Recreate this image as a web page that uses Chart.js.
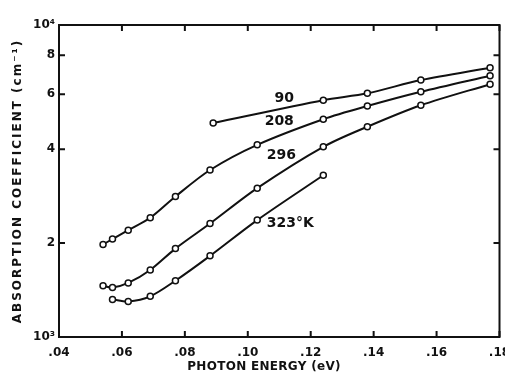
<!DOCTYPE html>
<html>
<head>
<meta charset="utf-8">
<script src="https://cdn.jsdelivr.net/npm/chart.js@4/dist/chart.umd.min.js"></script>
<style>
  body { margin: 0; background: #fff; }
  canvas { display: block; }
</style>
</head>
<body>
<canvas id="absChart" width="505" height="383"></canvas>
<script>
"use strict";

// värden
const energy90 = [0.089, 0.124, 0.138, 0.155, 0.177];
const coef90 = [4850, 5740, 6040, 6660, 7300];

const energy208 = [0.054, 0.057, 0.062, 0.069, 0.077, 0.088, 0.103, 0.124, 0.138, 0.155, 0.177];
const coef208 = [1980, 2060, 2200, 2410, 2820, 3430, 4130, 4990, 5500, 6110, 6880];

const energy296 = [0.054, 0.057, 0.062, 0.069, 0.077, 0.088, 0.103, 0.124, 0.138, 0.155, 0.177];
const coef296 = [1460, 1440, 1490, 1640, 1920, 2310, 3000, 4070, 4720, 5530, 6460];

const energy323 = [0.057, 0.062, 0.069, 0.077, 0.088, 0.103, 0.124];
const coef323 = [1320, 1300, 1350, 1515, 1820, 2370, 3300];

const yTicks = [1000, 2000, 4000, 6000, 8000, 10000];
const xTicks = [0.04, 0.06, 0.08, 0.10, 0.12, 0.14, 0.16, 0.18];

// kurvetiketter
const curveLabels = ["90", "208", "296", "323°K"];
const curveLabelX = [0.1116, 0.110, 0.1107, 0.1135];
const curveLabelY = [5840, 4920, 3830, 2320];

const xTitle = "PHOTON ENERGY (eV)";
const yTitle = "ABSORPTION COEFFICIENT (cm⁻¹)";

const tickFont = { family: "DejaVu Sans", size: 12, weight: "bold" };

function makeSet(xs, ys) {
    return {
        data: xs.map((x, i) => ({ x: x, y: ys[i] })),
        borderColor: "#111",
        borderWidth: 2,
        pointRadius: 3,
        pointBorderWidth: 1.5,
        pointBackgroundColor: "#fff",
        pointBorderColor: "#111",
        tension: 0.3,
        fill: false
    };
}

// ram, inåtriktade streck, axeltitlar och kurvetiketter
const framePlugin = {
    id: "frame",
    afterDraw(chart) {
        const ctx = chart.ctx;
        const a = chart.chartArea;
        const xs = chart.scales.x;
        const ys = chart.scales.y;
        ctx.save();
        ctx.strokeStyle = "#111";
        ctx.lineWidth = 2;
        ctx.strokeRect(a.left, a.top, a.right - a.left, a.bottom - a.top);
        ctx.beginPath();
        xTicks.forEach(v => {
            const px = xs.getPixelForValue(v);
            ctx.moveTo(px, a.bottom);
            ctx.lineTo(px, a.bottom - 6);
            ctx.moveTo(px, a.top);
            ctx.lineTo(px, a.top + 6);
        });
        yTicks.forEach(v => {
            const py = ys.getPixelForValue(v);
            ctx.moveTo(a.left, py);
            ctx.lineTo(a.left + 6, py);
            ctx.moveTo(a.right, py);
            ctx.lineTo(a.right - 6, py);
        });
        ctx.stroke();

        ctx.fillStyle = "#111";
        ctx.textAlign = "center";
        ctx.textBaseline = "middle";

        ctx.font = "bold 14px 'DejaVu Sans'";
        curveLabels.forEach((t, i) => {
            ctx.fillText(t, xs.getPixelForValue(curveLabelX[i]), ys.getPixelForValue(curveLabelY[i]));
        });

        ctx.font = "bold 12px 'DejaVu Sans'";
        ctx.letterSpacing = "0.3px";
        ctx.fillText(xTitle, 264, 367);

        ctx.letterSpacing = "2px";
        ctx.translate(18, (a.top + a.bottom) / 2);
        ctx.rotate(-Math.PI / 2);
        ctx.fillText(yTitle, 0, 0);
        ctx.restore();
    }
};

new Chart(document.getElementById("absChart"), {
    type: "line",
    data: {
        datasets: [
            makeSet(energy90, coef90),
            makeSet(energy208, coef208),
            makeSet(energy296, coef296),
            makeSet(energy323, coef323)
        ]
    },
    options: {
        responsive: false,
        animation: false,
        layout: { padding: { top: 25, right: 4, left: 0, bottom: 0 } },
        plugins: {
            legend: { display: false },
            tooltip: { enabled: false }
        },
        scales: {
            x: {
                type: "linear",
                min: 0.04,
                max: 0.18,
                afterBuildTicks: s => { s.ticks = xTicks.map(v => ({ value: v })); },
                afterFit: s => { s.height = 46; s.paddingLeft = 0; s.paddingRight = 0; },
                grid: { display: false, drawTicks: false },
                border: { display: false },
                ticks: {
                    color: "#111",
                    font: tickFont,
                    padding: 9,
                    maxRotation: 0,
                    callback: v => "." + String(Math.round(v * 100)).padStart(2, "0")
                }
            },
            y: {
                type: "logarithmic",
                min: 1000,
                max: 10000,
                afterBuildTicks: s => { s.ticks = yTicks.map(v => ({ value: v })); },
                afterFit: s => { s.width = 59; s.paddingTop = 0; s.paddingBottom = 0; },
                grid: { display: false, drawTicks: false },
                border: { display: false },
                ticks: {
                    color: "#111",
                    font: tickFont,
                    padding: 4,
                    callback: v => v === 1000 ? "10³" : v === 10000 ? "10⁴" : String(v / 1000)
                }
            }
        }
    },
    plugins: [framePlugin]
});
</script>
</body>
</html>
